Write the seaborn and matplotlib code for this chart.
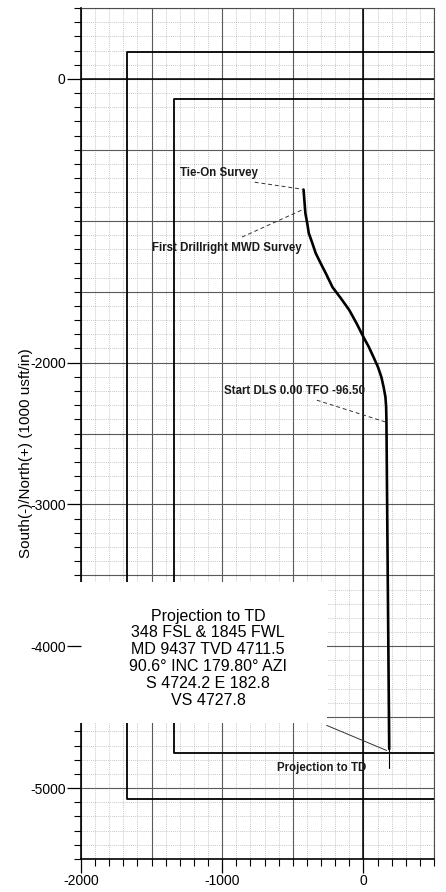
import numpy as np
import pandas as pd
import seaborn as sns
import matplotlib
matplotlib.use('Agg')
import matplotlib.pyplot as plt
from matplotlib.patches import Rectangle

# ── data read off the plan view ──────────────────────────────────────────────
# wellpath (East(+)/West(-) vs South(-)/North(+), usft)
path_ew = [-424, -411, -398, -387, -362, -338, -303, -267, -219, -160, -100, -48,
           0, 38, 71, 103, 127, 143, 156, 161, 163, 182.8]
path_ns = [-780, -946, -1016, -1087, -1157, -1228, -1299, -1369, -1468, -1546, -1630, -1724,
           -1819, -1889, -1960, -2031, -2101, -2172, -2243, -2313, -2400, -4724.2]

# section line (outer) and hard line / setback (inner)
outer_ew = [500, -1675, -1675, 500]
outer_ns = [190, 190, -5080, -5080]
inner_ew = [500, -1340, -1340, 500]
inner_ns = [-140, -140, -4750, -4750]

# short plan segment below the last survey
plan_ew = [178, 178]
plan_ns = [-4450, -4855]

# annotations: label position and leader end points
ann_text = ["Tie-On Survey", "First Drillright MWD Survey",
            "Start DLS 0.00 TFO -96.50", "Projection to TD"]
ann_lx = [-1300, -1500, -985, -610]
ann_ly = [-665, -1193, -2202, -4855]
lead_x0 = [-770, -860, -330, -260]
lead_y0 = [-728, -1115, -2265, -4558]
lead_x1 = [-430, -420, 160, 165]
lead_y1 = [-778, -917, -2420, -4735]
lead_dash = [True, True, True, False]

box_lines = ["Projection to TD", "348 FSL & 1845 FWL", "MD 9437 TVD 4711.5",
             "90.6\u00b0 INC 179.80\u00b0 AZI", "S 4724.2 E 182.8", "VS 4727.8"]

x_major = [-2000, -1000, 0]
y_major = [0, -2000, -3000, -4000, -5000]
x_lim = (-2000, 500)
y_lim = (-5500, 500)

# ── style ────────────────────────────────────────────────────────────────────
sns.set_theme(style='white')
plt.rcParams['font.family'] = ['Liberation Sans', 'DejaVu Sans']

fig = plt.figure(figsize=(4.46, 8.92), dpi=100)
ax = fig.add_axes([0.1816, 0.037, 0.7915, 0.954])
ax.set_xlim(*x_lim)
ax.set_ylim(*y_lim)

# grid paper: dotted every 100, solid every 500
minor_x = np.arange(x_lim[0], x_lim[1] + 1, 100)
minor_y = np.arange(y_lim[0], y_lim[1] + 1, 100)
ax.vlines(minor_x, *y_lim, colors='0.68', linestyles=(0, (1, 1.5)), lw=0.55, zorder=1)
ax.hlines(minor_y, *x_lim, colors='0.68', linestyles=(0, (1, 1.5)), lw=0.55, zorder=1)
ax.vlines(minor_x[::5], *y_lim, colors='0.35', lw=0.8, zorder=1.2)
ax.hlines(minor_y[::5], *x_lim, colors='0.35', lw=0.8, zorder=1.2)
ax.axvline(0, color='black', lw=1.1, zorder=1.5)
ax.axhline(0, color='black', lw=1.1, zorder=1.5)

# lease lines
sns.lineplot(x=outer_ew, y=outer_ns, sort=False, estimator=None, color='black', lw=1.3, ax=ax, zorder=2)
sns.lineplot(x=inner_ew, y=inner_ns, sort=False, estimator=None, color='black', lw=1.3, ax=ax, zorder=2)

# wellpath
well = pd.DataFrame({'ew': path_ew, 'ns': path_ns})
sns.lineplot(data=well, x='ew', y='ns', sort=False, estimator=None, color='black', lw=1.9, ax=ax, zorder=2.2)
sns.lineplot(x=plan_ew, y=plan_ns, sort=False, estimator=None, color='black', lw=0.8, ax=ax, zorder=2.2)

# annotation leaders and labels
for i in range(len(ann_text)):
    ls = (0, (4, 3)) if lead_dash[i] else '-'
    ax.plot([lead_x0[i], lead_x1[i]], [lead_y0[i], lead_y1[i]], color='0.2', lw=0.7, ls=ls, zorder=2.3)
    ax.text(ann_lx[i], ann_ly[i], ann_text[i], fontsize=8.3, fontweight='bold',
            ha='left', va='center', color='0.1', zorder=5)

# white panel with the final projection summary
ax.add_patch(Rectangle((-2150, -4540), 2150 - 255, 990, facecolor='white',
                       edgecolor='none', zorder=3, clip_on=False))
ax.text(-1100, -4083, "\n".join(box_lines), fontsize=11.5, ha='center', va='center',
        linespacing=1.15, color='black', zorder=5)

# axes, ticks
ax.set_xticks(x_major)
ax.set_xticks(minor_x, minor=True)
ax.set_yticks(y_major)
ax.set_yticks([v for v in minor_y if not (-4540 < v < -3550)], minor=True)
ax.set_xticklabels([str(v) for v in x_major])
ax.set_yticklabels([str(v) for v in y_major])
ax.tick_params(which='major', direction='out', length=10, width=0.9, color='black',
               labelsize=10, labelcolor='black', pad=1, left=True, bottom=True)
ax.tick_params(which='minor', direction='out', length=5, width=0.8, color='black',
               left=True, bottom=True)
ax.yaxis.set_zorder(4)

for side in ['left', 'bottom']:
    ax.spines[side].set_color('black')
    ax.spines[side].set_linewidth(1.2)
for side in ['top', 'right']:
    ax.spines[side].set_color('0.3')
    ax.spines[side].set_linewidth(0.8)

ax.set_xlabel('')
ax.set_ylabel('South(-)/North(+) (1000 usft/in)', fontsize=11, color='black')
ax.yaxis.set_label_coords(-0.135, 0.477)

fig.savefig('out.png', dpi=100)
